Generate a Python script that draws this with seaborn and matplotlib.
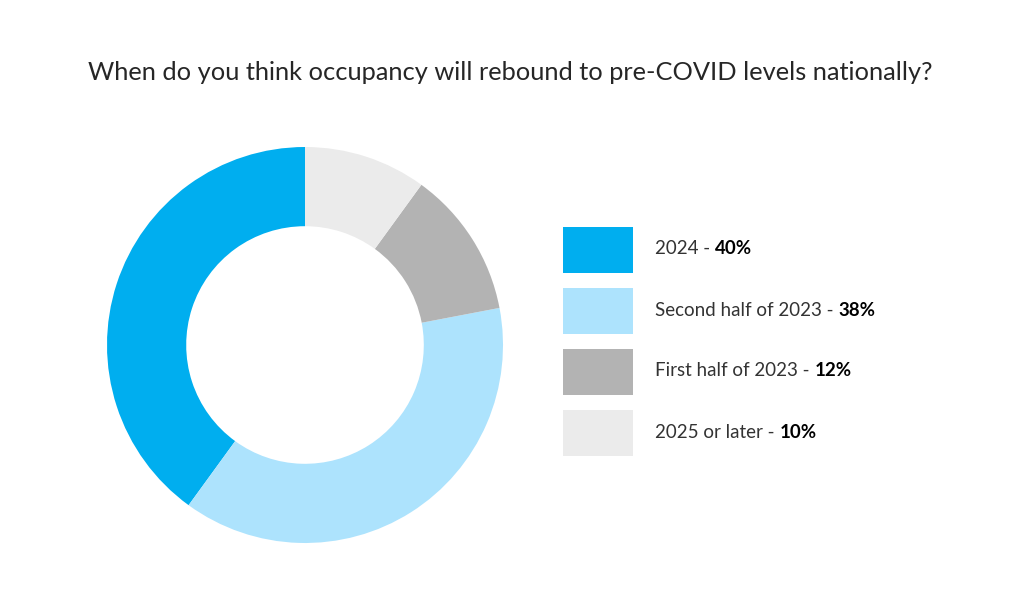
import matplotlib
matplotlib.use("Agg")
import matplotlib.pyplot as plt
import seaborn as sns
from matplotlib.patches import Rectangle

title = "When do you think occupancy will rebound to pre-COVID levels nationally?"
labels = ["2024", "Second half of 2023", "First half of 2023", "2025 or later"]
shares = [40, 38, 12, 10]
colors = ["#00AEEF", "#ADE3FD", "#B3B3B3", "#EBEBEB"]

sns.set_theme(style="white")
plt.rcParams['font.family'] = ['Lato', 'DejaVu Sans']

fig = plt.figure(figsize=(10.21, 5.99), dpi=100)
fig.patch.set_facecolor("white")

# donut
W, H = 1021, 599
cx, cy, r = 305, 345, 198
ax = fig.add_axes([(cx - r) / W, (H - cy - r) / H, 2 * r / W, 2 * r / H])
ax.pie(shares, colors=colors, startangle=90, counterclock=True,
       radius=1, wedgeprops=dict(width=0.4, linewidth=0))
ax.set_xlim(-1, 1)
ax.set_ylim(-1, 1)
ax.set_aspect("equal")
ax.axis("off")

fig.text(0.5, 1 - 73 / H, title, ha="center", va="center",
         fontsize=18.3, color="#262626", fontweight="normal")

# legend
lax = fig.add_axes([0, 0, 1, 1])
lax.set_xlim(0, W)
lax.set_ylim(H, 0)
lax.axis("off")
for i, (lab, val, col) in enumerate(zip(labels, shares, colors)):
    top = 227 + i * 61
    lax.add_patch(Rectangle((563, top), 70, 46, facecolor=col, edgecolor="none"))
    t = lax.text(655, top + 22, f"{lab} - ", ha="left", va="center",
                 fontsize=13.5, color="#333333")
    lax.annotate(f"{val}%", xy=(1, 0), xycoords=t, ha="left", va="bottom",
                 fontsize=13.5, color="black", fontweight="bold")

fig.savefig("out.png", dpi=100, facecolor="white")
